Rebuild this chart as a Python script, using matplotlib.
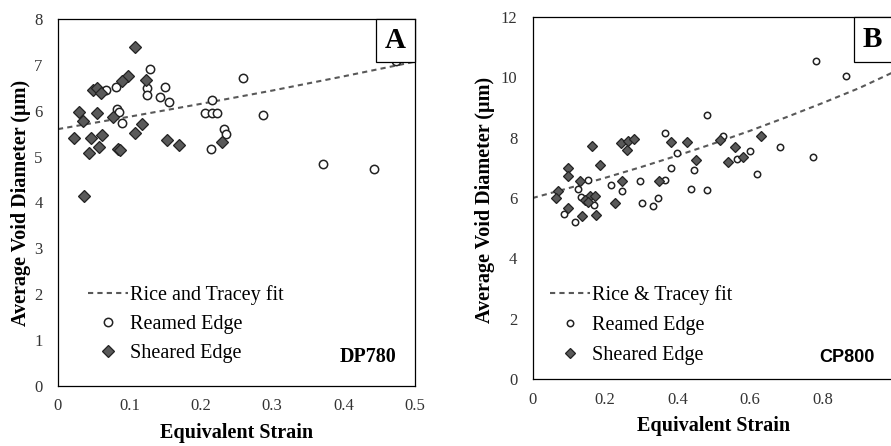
import matplotlib
matplotlib.use('Agg')
import matplotlib.pyplot as plt
from matplotlib.patches import Rectangle

# panel A: DP780
a_reamed_x = [0.067, 0.081, 0.083, 0.085, 0.090, 0.124, 0.124, 0.129, 0.143, 0.150, 0.155, 0.216,
              0.206, 0.215, 0.223, 0.214, 0.232, 0.235, 0.259, 0.287, 0.371, 0.443, 0.474]
a_reamed_y = [6.45, 6.52, 6.03, 5.98, 5.74, 6.49, 6.34, 6.92, 6.30, 6.52, 6.19, 6.23,
              5.95, 5.95, 5.95, 5.16, 5.60, 5.49, 6.72, 5.91, 4.84, 4.73, 7.08]
a_sheared_x = [0.108, 0.0985, 0.090, 0.0495, 0.054, 0.060, 0.123, 0.030, 0.0345, 0.055, 0.077, 0.0224,
               0.0458, 0.062, 0.044, 0.0574, 0.0845, 0.087, 0.108, 0.117, 0.153, 0.169, 0.230, 0.0364]
a_sheared_y = [7.39, 6.76, 6.64, 6.46, 6.49, 6.38, 6.68, 5.98, 5.78, 5.96, 5.87, 5.41,
               5.41, 5.47, 5.07, 5.21, 5.16, 5.14, 5.51, 5.72, 5.37, 5.25, 5.32, 4.15]
a_fit_x = [0.0, 0.1, 0.2, 0.3, 0.4, 0.5]
a_fit_y = [5.60, 5.87, 6.15, 6.44, 6.75, 7.07]

# panel B: CP800
b_reamed_x = [0.782, 0.864, 0.482, 0.365, 0.397, 0.381, 0.446, 0.437, 0.480, 0.365, 0.296, 0.216,
              0.247, 0.301, 0.333, 0.347, 0.153, 0.124, 0.133, 0.170, 0.087, 0.117, 0.682, 0.774,
              0.600, 0.563, 0.618, 0.524, 0.145]
b_reamed_y = [10.53, 10.06, 8.74, 8.15, 7.49, 7.01, 6.94, 6.31, 6.25, 6.60, 6.58, 6.44,
              6.22, 5.83, 5.75, 6.00, 6.60, 6.30, 6.03, 5.77, 5.47, 5.22, 7.68, 7.35,
              7.57, 7.29, 6.79, 8.05, 5.95]
b_sheared_x = [0.163, 0.186, 0.244, 0.259, 0.264, 0.279, 0.381, 0.427, 0.451, 0.517, 0.629, 0.558,
               0.579, 0.540, 0.098, 0.098, 0.130, 0.247, 0.349, 0.071, 0.063, 0.158, 0.144, 0.153,
               0.172, 0.227, 0.098, 0.135, 0.175]
b_sheared_y = [7.73, 7.08, 7.82, 7.60, 7.88, 7.97, 7.84, 7.84, 7.25, 7.93, 8.04, 7.68,
               7.35, 7.18, 6.99, 6.74, 6.57, 6.57, 6.55, 6.22, 6.00, 6.05, 5.94, 5.88,
               6.05, 5.83, 5.66, 5.39, 5.44]
b_fit_x = [0.0, 0.1, 0.2, 0.3, 0.4, 0.5, 0.6, 0.7, 0.8, 0.9, 1.0]
b_fit_y = [6.00, 6.33, 6.67, 7.03, 7.41, 7.81, 8.23, 8.68, 9.15, 9.64, 10.20]

a_xticks = [0, 0.1, 0.2, 0.3, 0.4, 0.5]
a_yticks = [0, 1, 2, 3, 4, 5, 6, 7, 8]
b_xticks = [0, 0.2, 0.4, 0.6, 0.8]
b_yticks = [0, 2, 4, 6, 8, 10, 12]

plt.rcParams['font.family'] = ['Liberation Serif', 'DejaVu Serif']
GRAY = '#595959'
LABEL_FS = 14.5


def draw_panel(ax, fit_x, fit_y, rx, ry, sx, sy, fit_label, ms_circ, ms_diam):
    fit, = ax.plot(fit_x, fit_y, ls='--', dashes=(2.5, 2), color=GRAY, lw=1.5, zorder=2,
                   label=fit_label)
    ream, = ax.plot(rx, ry, 'o', ls='none', ms=ms_circ, mfc='white', mec='#222222', mew=1.1,
                    zorder=3, label='Reamed Edge')
    shear, = ax.plot(sx, sy, 'D', ls='none', ms=ms_diam, mfc=GRAY, mec='#222222', mew=0.9,
                     zorder=4, label='Sheared Edge')
    for s in ax.spines.values():
        s.set_linewidth(0.9)
        s.set_color('black')
    ax.tick_params(length=0, labelsize=12, labelcolor='#333333')
    ax.tick_params(axis='y', pad=11)
    ax.tick_params(axis='x', pad=9)
    return [fit, ream, shear]


fig = plt.figure(figsize=(8.91, 4.46), dpi=100)

# ---- A ----
axA = fig.add_axes([58 / 891, 60 / 446, 357 / 891, 367 / 446])
hA = draw_panel(axA, a_fit_x, a_fit_y, a_reamed_x, a_reamed_y, a_sheared_x, a_sheared_y,
                'Rice and Tracey fit', 6.0, 6.2)
axA.set_xlim(0, 0.5)
axA.set_ylim(0, 8)
axA.set_xticks(a_xticks)
axA.set_xticklabels(['0', '0.1', '0.2', '0.3', '0.4', '0.5'])
axA.set_yticks(a_yticks)
axA.set_xlabel('Equivalent Strain', fontsize=LABEL_FS, fontweight='bold')
axA.set_ylabel('Average Void Diameter (\u00b5m)', fontsize=LABEL_FS, fontweight='bold')
axA.xaxis.set_label_coords(0.5, -0.1)
axA.yaxis.set_label_coords(-0.076, 0.5)
axA.add_patch(Rectangle((0.891, 0.884), 0.109, 0.116, transform=axA.transAxes, fc='white',
                        ec='black', lw=0.9, zorder=5, clip_on=False))
axA.text(0.9455, 0.942, 'A', transform=axA.transAxes, ha='center', va='center',
         fontsize=21, fontweight='bold', zorder=6)
axA.text(0.868, 0.08, 'DP780', transform=axA.transAxes, ha='center', va='center',
         fontsize=14.5, fontweight='bold')
axA.legend(handles=hA, loc='upper left', bbox_to_anchor=(0.084, 0.275), frameon=False,
           fontsize=LABEL_FS, handlelength=2.0, handletextpad=0.1, labelspacing=0.5,
           borderpad=0, borderaxespad=0)

# ---- B ----
axB = fig.add_axes([532.7 / 891, 67 / 446, 362.5 / 891, 362 / 446])
hB = draw_panel(axB, b_fit_x, b_fit_y, b_reamed_x, b_reamed_y, b_sheared_x, b_sheared_y,
                'Rice & Tracey fit', 4.6, 5.6)
axB.set_xlim(0, 1.0)
axB.set_ylim(0, 12)
axB.set_xticks(b_xticks)
axB.set_xticklabels(['0', '0.2', '0.4', '0.6', '0.8'])
axB.set_yticks(b_yticks)
axB.set_xlabel('Equivalent Strain', fontsize=LABEL_FS, fontweight='bold')
axB.set_ylabel('Average Void Diameter (\u00b5m)', fontsize=LABEL_FS, fontweight='bold')
axB.xaxis.set_label_coords(0.5, -0.103)
axB.yaxis.set_label_coords(-0.105, 0.494)
axB.add_patch(Rectangle((0.886, 0.877), 0.114, 0.123, transform=axB.transAxes, fc='white',
                        ec='black', lw=0.9, zorder=5, clip_on=False))
axB.text(0.938, 0.938, 'B', transform=axB.transAxes, ha='center', va='center',
         fontsize=21, fontweight='bold', zorder=6)
axB.text(0.866, 0.06, 'CP800', transform=axB.transAxes, ha='center', va='center',
         fontsize=13, fontweight='bold', family=['Liberation Sans', 'DejaVu Sans'])
axB.legend(handles=hB, loc='upper left', bbox_to_anchor=(0.048, 0.259), frameon=False,
           fontsize=LABEL_FS, handlelength=2.0, handletextpad=0.1, labelspacing=0.55,
           borderpad=0, borderaxespad=0)

fig.savefig('out.png', dpi=100)
